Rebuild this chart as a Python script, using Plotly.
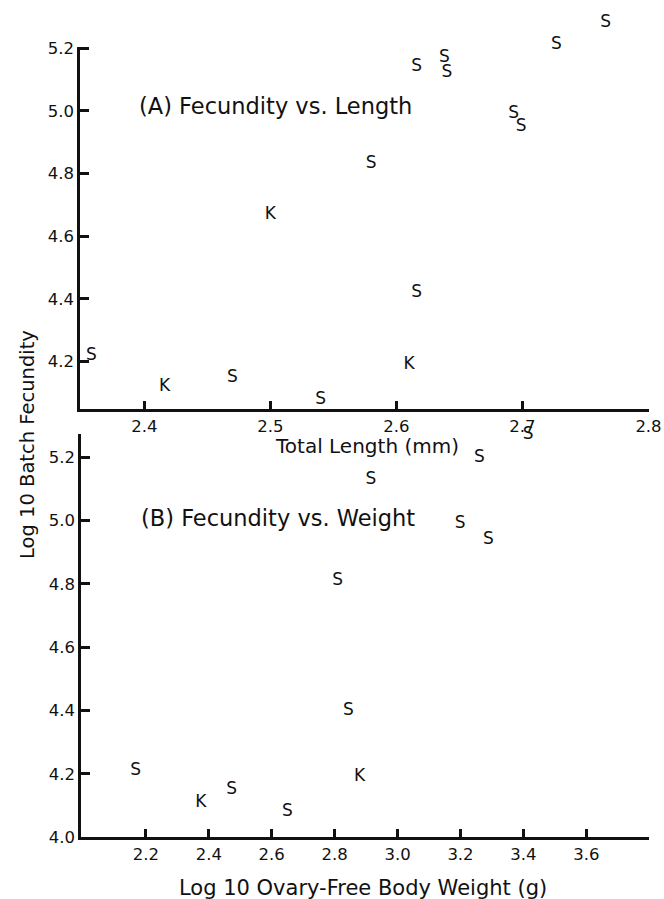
import plotly.graph_objects as go

# Panel A: log10 total length vs log10 batch fecundity
length_A = [2.358, 2.416, 2.470, 2.500, 2.540, 2.616, 2.638, 2.640, 2.727, 2.766,
            2.693, 2.699, 2.580, 2.616, 2.610]
fec_A = [4.22, 4.12, 4.15, 4.67, 4.08, 5.14, 5.17, 5.12, 5.21, 5.28,
         4.99, 4.95, 4.83, 4.42, 4.19]
code_A = ["S", "K", "S", "K", "S", "S", "S", "S", "S", "S",
          "S", "S", "S", "S", "K"]

# Panel B: log10 ovary-free body weight vs log10 batch fecundity
weight_B = [2.168, 2.375, 2.473, 2.650, 2.810, 2.844, 2.879, 2.915, 3.199, 3.289,
            3.260, 3.415]
fec_B = [4.21, 4.11, 4.15, 4.08, 4.81, 4.40, 4.19, 5.13, 4.99, 4.94,
         5.20, 5.27]
code_B = ["S", "K", "S", "S", "S", "S", "K", "S", "S", "S",
          "S", "S"]

xticks_A = [2.4, 2.5, 2.6, 2.7, 2.8]
yticks_A = [4.2, 4.4, 4.6, 4.8, 5.0, 5.2]
xticks_B = [2.2, 2.4, 2.6, 2.8, 3.0, 3.2, 3.4, 3.6]
yticks_B = [4.0, 4.2, 4.4, 4.6, 4.8, 5.0, 5.2]

# drawn axis ranges, and slightly taller view ranges so marks that sit
# above the axis end (as in the original) are still drawn
xrange_A = [2.349, 2.8]
xrange_B = [1.994, 3.8]
yrange_A = [4.048, 5.205]
yrange_B = [4.0, 5.272]
yview_A_top = 5.31
yview_B_top = 5.32

W, H = 664, 899
FONT = "DejaVu Sans"
INK = "#111111"
LW = 2.5

# pixel geometry
A_left_px, A_right_px = 80, 648.5
B_left_px, B_right_px = 81, 649.3
A_bottom_px, A_scale = 409.3, 313.5   # px per 1.0 unit
B_bottom_px, B_scale = 837.3, 316.7
A_axis_top_px = A_bottom_px - (yrange_A[1] - yrange_A[0]) * A_scale
B_axis_top_px = B_bottom_px - (yrange_B[1] - yrange_B[0]) * B_scale
A_view_top_px = A_bottom_px - (yview_A_top - yrange_A[0]) * A_scale
B_view_top_px = B_bottom_px - (yview_B_top - yrange_B[0]) * B_scale

def px_y(p):
    return 1 - p / H

def px_x(p):
    return p / W

fig = go.Figure()

# empty traces so the visible axis frames are drawn
for xa, ya in (("x", "y"), ("x2", "y2")):
    fig.add_trace(go.Scatter(x=[None], y=[None], mode="markers", hoverinfo="skip",
                             marker=dict(opacity=0), xaxis=xa, yaxis=ya,
                             showlegend=False))

fig.add_trace(go.Scatter(x=length_A, y=fec_A, text=code_A, mode="text",
                         textposition="middle center", cliponaxis=False,
                         textfont=dict(family=FONT, size=17, color=INK),
                         hoverinfo="skip",
                         xaxis="x3", yaxis="y3", showlegend=False))
fig.add_trace(go.Scatter(x=weight_B, y=fec_B, text=code_B, mode="text",
                         textposition="middle center", cliponaxis=False,
                         textfont=dict(family=FONT, size=17, color=INK),
                         hoverinfo="skip",
                         xaxis="x4", yaxis="y4", showlegend=False))

common = dict(linecolor=INK, linewidth=LW, ticks="inside", showline=True,
              ticklen=9, tickwidth=LW, tickcolor=INK, showgrid=False,
              zeroline=False, mirror=False, tickformat=".1f",
              tickfont=dict(family=FONT, size=16.5, color=INK),
              automargin=False, fixedrange=True)
hidden = dict(visible=False, showgrid=False, zeroline=False,
              automargin=False, fixedrange=True)

fig.update_layout(
    width=W, height=H,
    margin=dict(l=0, r=0, t=0, b=0),
    paper_bgcolor="white", plot_bgcolor="rgba(0,0,0,0)",
    # visible axes of panel A and B
    xaxis=dict(domain=[px_x(A_left_px), px_x(A_right_px)], range=xrange_A,
               tickvals=xticks_A, anchor="y", **common),
    yaxis=dict(domain=[px_y(A_bottom_px), px_y(A_axis_top_px)], range=yrange_A,
               tickvals=yticks_A, anchor="x", **common),
    xaxis2=dict(domain=[px_x(B_left_px), px_x(B_right_px)], range=xrange_B,
                tickvals=xticks_B, anchor="y2", **common),
    yaxis2=dict(domain=[px_y(B_bottom_px), px_y(B_axis_top_px)], range=yrange_B,
                tickvals=yticks_B, anchor="x2", **common),
    # same scales, taller view, for the letter marks
    xaxis3=dict(domain=[px_x(A_left_px), px_x(A_right_px)], range=xrange_A,
                anchor="y3", **hidden),
    yaxis3=dict(domain=[px_y(A_bottom_px), px_y(A_view_top_px)],
                range=[yrange_A[0], yview_A_top], anchor="x3", **hidden),
    xaxis4=dict(domain=[px_x(B_left_px), px_x(B_right_px)], range=xrange_B,
                anchor="y4", **hidden),
    yaxis4=dict(domain=[px_y(B_bottom_px), px_y(B_view_top_px)],
                range=[yrange_B[0], yview_B_top], anchor="x4", **hidden),
)

ann = dict(xref="paper", yref="paper", showarrow=False,
           xanchor="center", yanchor="middle")
fig.add_annotation(text="(A) Fecundity vs. Length", x=px_x(275), y=px_y(106),
                   font=dict(family=FONT, size=22.5, color=INK), **ann)
fig.add_annotation(text="(B) Fecundity vs. Weight", x=px_x(278), y=px_y(518),
                   font=dict(family=FONT, size=22.5, color=INK), **ann)
fig.add_annotation(text="Total Length (mm)", x=px_x(366.5), y=px_y(446),
                   font=dict(family=FONT, size=20, color=INK), **ann)
fig.add_annotation(text="Log 10 Ovary-Free Body Weight (g)", x=px_x(362.5), y=px_y(888),
                   font=dict(family=FONT, size=21, color=INK), **ann)
fig.add_annotation(text="Log 10 Batch Fecundity", x=px_x(27), y=px_y(445), textangle=-90,
                   font=dict(family=FONT, size=19.5, color=INK), **ann)

fig.write_html("out.html", config={"displayModeBar": False},
               post_script="document.body.style.margin='0';document.body.style.overflow='hidden';")
